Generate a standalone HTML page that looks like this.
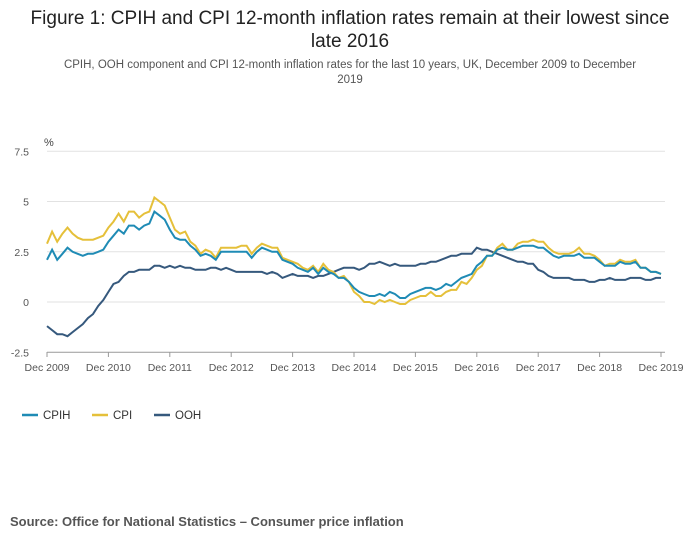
<!DOCTYPE html>
<html><head><meta charset="utf-8"><style>
body{margin:0;background:#fff;font-family:"Liberation Sans",sans-serif;}
svg text{font-family:"Liberation Sans",sans-serif;}
</style></head><body>
<svg width="700" height="549">
<text x="350" y="24" text-anchor="middle" font-size="19" fill="#222">Figure 1: CPIH and CPI 12-month inflation rates remain at their lowest since</text>
<text x="350" y="47" text-anchor="middle" font-size="19" fill="#222">late 2016</text>
<text x="350" y="68" text-anchor="middle" font-size="11.5" fill="#555">CPIH, OOH component and CPI 12-month inflation rates for the last 10 years, UK, December 2009 to December</text>
<text x="350" y="83" text-anchor="middle" font-size="11.5" fill="#555">2019</text>
<text x="44" y="146" font-size="11" fill="#444">%</text>
<g id="grid"></g><g id="lines"></g>
<g>
<g><line x1="22" y1="415" x2="38" y2="415" stroke="#1f8bb5" stroke-width="2.5"/><text x="43" y="419" font-size="11.5" fill="#333">CPIH</text></g>
<g><line x1="92" y1="415" x2="108" y2="415" stroke="#e5c03a" stroke-width="2.5"/><text x="113" y="419" font-size="11.5" fill="#333">CPI</text></g>
<g><line x1="154" y1="415" x2="170" y2="415" stroke="#36597d" stroke-width="2.5"/><text x="175" y="419" font-size="11.5" fill="#333">OOH</text></g>
</g>
<text x="10" y="526" font-size="13" font-weight="bold" fill="#555">Source: Office for National Statistics – Consumer price inflation</text>
</svg>
<script>
const yTicks=[7.5,5,2.5,0,-2.5];
const yTickLabels=["7.5","5","2.5","0","-2.5"];
const xTickLabels=["Dec 2009","Dec 2010","Dec 2011","Dec 2012","Dec 2013","Dec 2014","Dec 2015","Dec 2016","Dec 2017","Dec 2018","Dec 2019"];
const cpih=[2.1,
2.6,2.1,2.4,2.7,2.5,2.4,2.3,2.4,2.4,2.5,2.6,3.0,
3.3,3.6,3.4,3.8,3.8,3.6,3.8,3.9,4.5,4.3,4.1,3.6,
3.2,3.1,3.1,2.8,2.6,2.3,2.4,2.3,2.1,2.5,2.5,2.5,
2.5,2.5,2.5,2.2,2.5,2.7,2.6,2.5,2.5,2.1,2.0,1.9,
1.7,1.6,1.5,1.7,1.4,1.7,1.5,1.4,1.2,1.2,1.0,0.7,
0.5,0.4,0.3,0.3,0.4,0.3,0.5,0.4,0.2,0.2,0.4,0.5,
0.6,0.7,0.7,0.6,0.7,0.9,0.8,1.0,1.2,1.3,1.4,1.8,
2.0,2.3,2.3,2.6,2.7,2.6,2.6,2.7,2.8,2.8,2.8,2.7,
2.7,2.5,2.3,2.2,2.3,2.3,2.3,2.4,2.2,2.2,2.2,2.0,
1.8,1.8,1.8,2.0,1.9,1.9,2.0,1.7,1.7,1.5,1.5,1.4];
const cpi=[2.9,
3.5,3.0,3.4,3.7,3.4,3.2,3.1,3.1,3.1,3.2,3.3,3.7,
4.0,4.4,4.0,4.5,4.5,4.2,4.4,4.5,5.2,5.0,4.8,4.2,
3.6,3.4,3.5,3.0,2.8,2.4,2.6,2.5,2.2,2.7,2.7,2.7,
2.7,2.8,2.8,2.4,2.7,2.9,2.8,2.7,2.7,2.2,2.1,2.0,
1.9,1.7,1.6,1.8,1.5,1.9,1.6,1.5,1.2,1.3,1.0,0.5,
0.3,0.0,0.0,-0.1,0.1,0.0,0.1,0.0,-0.1,-0.1,0.1,0.2,
0.3,0.3,0.5,0.3,0.3,0.5,0.6,0.6,1.0,0.9,1.2,1.6,
1.8,2.3,2.3,2.7,2.9,2.6,2.6,2.9,3.0,3.0,3.1,3.0,
3.0,2.7,2.5,2.4,2.4,2.4,2.5,2.7,2.4,2.4,2.3,2.1,
1.8,1.9,1.9,2.1,2.0,2.0,2.1,1.7,1.7,1.5,1.5,1.4];
const ooh=[-1.2,
-1.4,-1.6,-1.6,-1.7,-1.5,-1.3,-1.1,-0.8,-0.6,-0.2,0.1,0.5,
0.9,1.0,1.3,1.5,1.5,1.6,1.6,1.6,1.8,1.8,1.7,1.8,
1.7,1.8,1.7,1.7,1.6,1.6,1.6,1.7,1.7,1.6,1.7,1.6,
1.5,1.5,1.5,1.5,1.5,1.5,1.4,1.5,1.4,1.2,1.3,1.4,
1.3,1.3,1.3,1.2,1.3,1.3,1.4,1.5,1.6,1.7,1.7,1.7,
1.6,1.7,1.9,1.9,2.0,1.9,1.8,1.9,1.8,1.8,1.8,1.8,
1.9,1.9,2.0,2.0,2.1,2.2,2.3,2.3,2.4,2.4,2.4,2.7,
2.6,2.6,2.5,2.4,2.3,2.2,2.1,2.0,2.0,1.9,1.9,1.6,
1.5,1.3,1.2,1.2,1.2,1.2,1.1,1.1,1.1,1.0,1.0,1.1,
1.1,1.2,1.1,1.1,1.1,1.2,1.2,1.2,1.1,1.1,1.2,1.2];
const NS="http://www.w3.org/2000/svg";
const X0=47,X1=661,Y0=302,PU=20.1;
const xs=i=>X0+(X1-X0)*i/120;
const ys=v=>Y0-v*PU;
const grid=document.getElementById('grid');
yTicks.forEach((t,i)=>{
 const l=document.createElementNS(NS,'line');
 l.setAttribute('x1',X0);l.setAttribute('x2',665);l.setAttribute('y1',ys(t));l.setAttribute('y2',ys(t));
 l.setAttribute('stroke',t===-2.5?'#999':'#e2e2e2');l.setAttribute('stroke-width','1');
 
 
 grid.appendChild(l);
 const tx=document.createElementNS(NS,'text');
 tx.setAttribute('x',29);tx.setAttribute('y',ys(t)+4);tx.setAttribute('text-anchor','end');
 tx.setAttribute('font-size','10.5');tx.setAttribute('fill','#555');tx.textContent=yTickLabels[i];
 
 
 grid.appendChild(tx);
});
xTickLabels.forEach((s,i)=>{
 const x=xs(i*12);
 const l=document.createElementNS(NS,'line');
 l.setAttribute('x1',x);l.setAttribute('x2',x);l.setAttribute('y1',352);l.setAttribute('y2',357);l.setAttribute('stroke','#999');
 
 
 grid.appendChild(l);
 const tx=document.createElementNS(NS,'text');
 tx.setAttribute('x',x);tx.setAttribute('y',371);tx.setAttribute('text-anchor','middle');
 tx.setAttribute('font-size','10.5');tx.setAttribute('fill','#555');tx.textContent=s;
 
 
 grid.appendChild(tx);
});
const lines=document.getElementById('lines');
[[ooh,'#36597d','ooh-line'],[cpi,'#e5c03a','cpi-line'],[cpih,'#1f8bb5','cpih-line']].forEach(([d,c,n])=>{
 const p=document.createElementNS(NS,'path');
 p.setAttribute('d',d.map((v,i)=>(i?'L':'M')+xs(i).toFixed(1)+','+ys(v).toFixed(1)).join(''));
 p.setAttribute('fill','none');p.setAttribute('stroke',c);p.setAttribute('stroke-width','2');
 
 
 lines.appendChild(p);
});
</script>
</body></html>
